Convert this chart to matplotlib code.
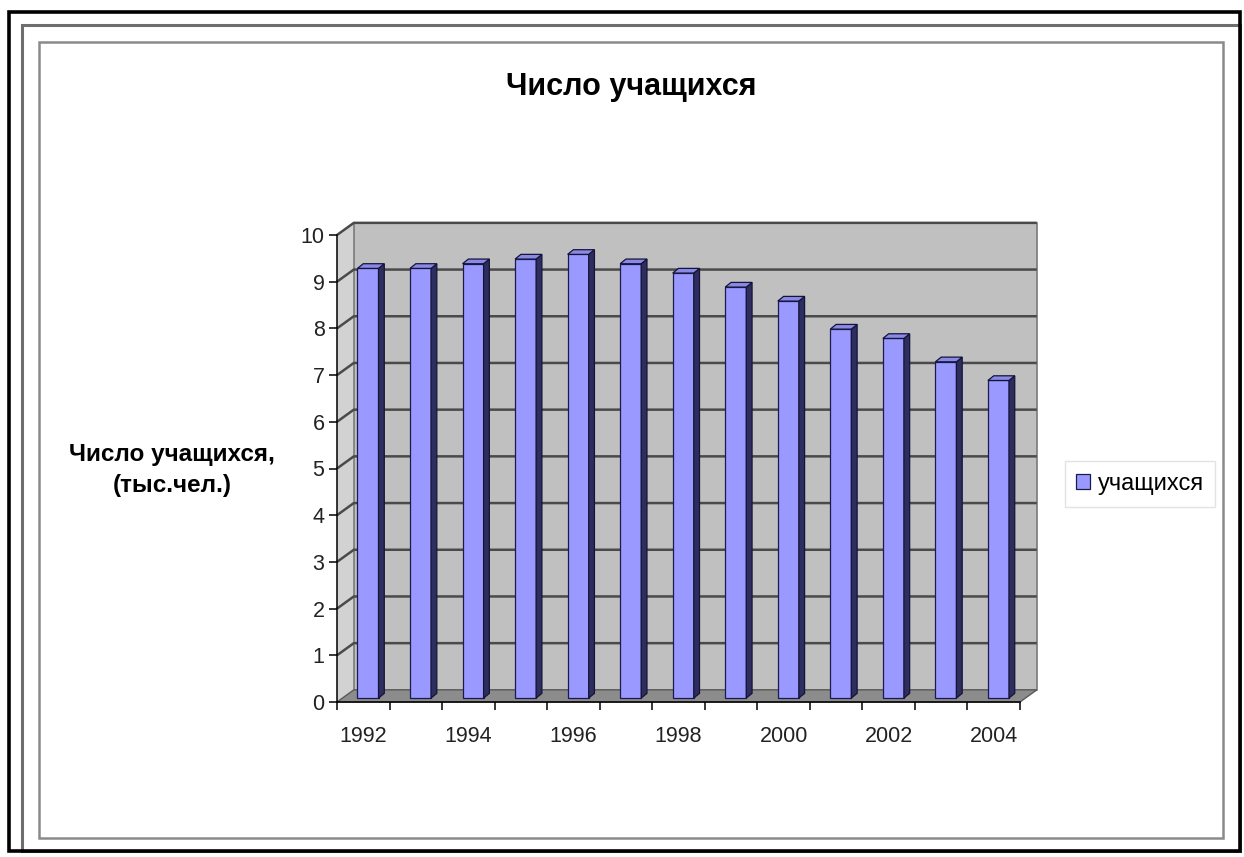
import matplotlib.pyplot as plt
from matplotlib.patches import Polygon, Rectangle
import numpy as np

# Data
years = [1992, 1993, 1994, 1995, 1996, 1997, 1998, 1999, 2000, 2001, 2002, 2003, 2004]
students = [9.2, 9.2, 9.3, 9.4, 9.5, 9.3, 9.1, 8.8, 8.5, 7.9, 7.7, 7.2, 6.8]
y_ticks = list(range(0, 11))
x_labels = [str(y) if y % 2 == 0 else '' for y in years]

title = 'Число учащихся'
y_title = 'Число учащихся,\n(тыс.чел.)'
series_name = 'учащихся'

W, H = 1244, 857
plt.rcParams['font.family'] = ['Liberation Sans', 'DejaVu Sans']
fig = plt.figure(figsize=(W / 100, H / 100), dpi=100)


def frame(x0, y0, x1, y1, **kw):
    # rectangle given in pixel coords (top-left origin)
    r = Rectangle((x0 / W, 1 - y1 / H), (x1 - x0) / W, (y1 - y0) / H,
                  transform=fig.transFigure, fill=False, **kw)
    fig.add_artist(r)


# Frames round the picture
frame(22, 25, 1240, 851, ec='#6e6e6e', lw=2.2)
frame(9, 12, 1240, 851, ec='black', lw=2.6)
frame(39, 42, 1223, 838, ec='#8a8a8a', lw=1.8)

n = len(years)
ax = fig.add_axes([337 / W, 1 - 702 / H, 683 / W, 467 / H])
ax.set_xlim(0, n)
ax.set_ylim(0, 10)
ax.patch.set_visible(False)

# depth of the 3d box (data units)
dx, dy = 0.32, 0.26

# side wall, back wall, floor
ax.add_patch(Polygon([(0, 0), (dx, dy), (dx, 10 + dy), (0, 10)], closed=True,
                     fc='#d2d2d2', ec='none', clip_on=False, zorder=0.3))
ax.add_patch(Rectangle((dx, dy), n, 10, fc='#c0c0c0', ec='#7a7a7a', lw=1.2,
                       clip_on=False, zorder=0.3))
ax.add_patch(Polygon([(0, 0), (n, 0), (n + dx, dy), (dx, dy)], closed=True,
                     fc='#8c8c8c', ec='#5a5a5a', lw=1.0, clip_on=False, zorder=0.4))

# gridlines on side wall and back wall
for k in y_ticks[1:]:
    ax.plot([0, dx, n + dx], [k, k + dy, k + dy], color='#4a4a4a', lw=1.8,
            clip_on=False, zorder=0.6, solid_capstyle='butt')

# bars with pseudo-3d faces
bw = 0.4
bdx, bdy = 0.09, 0.085     # position of bars inside the depth
sdx, sdy = 0.11, 0.10      # bar depth
xs = np.arange(n) + 0.5 + bdx
bars = ax.bar(xs, students, width=bw, bottom=bdy, color='#9999ff',
              edgecolor='#1a1a4e', lw=0.9, zorder=3, label=series_name)
for x, v in zip(xs, students):
    xl, xr = x - bw / 2, x + bw / 2
    top = v + bdy
    ax.add_patch(Polygon([(xr, bdy), (xr + sdx, bdy + sdy), (xr + sdx, top + sdy), (xr, top)],
                         closed=True, fc='#2e2e5e', ec='#14143a', lw=0.9, zorder=3.1,
                         clip_on=False))
    ax.add_patch(Polygon([(xl, top), (xl + sdx, top + sdy), (xr + sdx, top + sdy), (xr, top)],
                         closed=True, fc='#8a8ae6', ec='#14143a', lw=0.9, zorder=3.2,
                         clip_on=False))

# axes
for s in ['top', 'right']:
    ax.spines[s].set_visible(False)
for s in ['left', 'bottom']:
    ax.spines[s].set_color('black')
    ax.spines[s].set_linewidth(1.1)
    ax.spines[s].set_zorder(4)

ax.set_yticks(y_ticks)
ax.tick_params(axis='y', direction='out', length=6, width=1.1, pad=3,
               labelsize=15.5, colors='black')
ax.set_xticks(np.arange(n + 1))
ax.set_xticklabels([])
ax.tick_params(axis='x', which='major', direction='out', length=6, width=1.1)
ax.set_xticks(np.arange(n) + 0.5, minor=True)
ax.set_xticklabels(x_labels, minor=True)
ax.tick_params(axis='x', which='minor', length=0, pad=17, labelsize=15.5)
for t in ax.get_yticklabels() + ax.get_xticklabels(minor=True):
    t.set_color('#222222')

# titles
fig.text(631 / W, 1 - 87 / H, title, ha='center', va='center',
         fontsize=22, fontweight='bold')
fig.text(172 / W, 1 - 470 / H, y_title, ha='center', va='center',
         fontsize=17.5, fontweight='bold', linespacing=1.4)

# legend
leg = fig.legend(handles=[bars], labels=[series_name], loc='center',
                 bbox_to_anchor=(1140 / W, 1 - 484 / H), bbox_transform=fig.transFigure,
                 fontsize=17, frameon=True, fancybox=False, edgecolor='#dcdcdc',
                 handlelength=0.6, handleheight=0.6, handletextpad=0.3,
                 borderpad=0.5)
leg.get_frame().set_linewidth(1.0)

fig.savefig('out.png', dpi=100)
